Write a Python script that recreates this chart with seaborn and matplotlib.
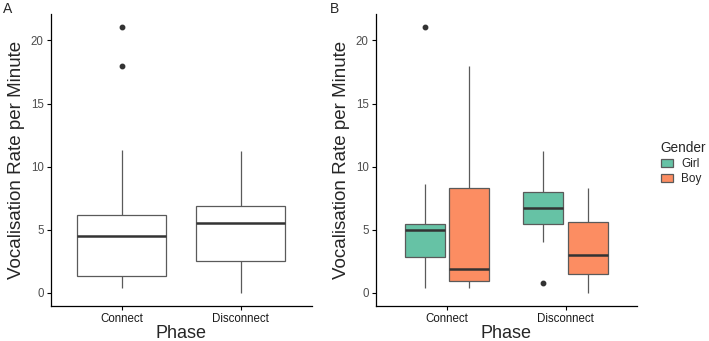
import numpy as np
import pandas as pd
import matplotlib
matplotlib.use("Agg")
import matplotlib.pyplot as plt
import seaborn as sns

# vocalisation rate per minute, one value per child
connect_girl = [0.34, 0.8, 1.68, 2.82, 3.6, 4.8, 5.0, 5.1, 5.3, 5.45, 6.37, 8.62, 21.05]
connect_boy = [0.4, 0.6, 0.95, 1.2, 1.92, 4.2, 8.33, 11.28, 17.95]
disconnect_girl = [0.79, 4.0, 5.45, 6.0, 6.7, 7.3, 7.96, 9.2, 11.25]
disconnect_boy = [0.0, 0.3, 0.6, 1.5, 2.4, 2.8, 3.0, 3.5, 5.55, 5.64, 6.2, 6.9, 8.33]

phases = ["Connect", "Disconnect"]
genders = ["Girl", "Boy"]
gender_colors = ["#66C2A5", "#FC8D62"]


def build_frame():
    rows = []
    groups = {("Connect", "Girl"): connect_girl, ("Connect", "Boy"): connect_boy,
              ("Disconnect", "Girl"): disconnect_girl, ("Disconnect", "Boy"): disconnect_boy}
    for (phase, gender), vals in groups.items():
        for v in vals:
            rows.append({"Phase": phase, "Gender": gender, "Rate": v})
    return pd.DataFrame(rows)


df = build_frame()

sns.set_theme(style="ticks")
plt.rcParams["font.family"] = ["Liberation Sans", "DejaVu Sans"]

fig = plt.figure(figsize=(7.09, 3.41), dpi=100)
ax_a = fig.add_axes([50.7 / 709, 35 / 341, 261 / 709, 292 / 341])
ax_b = fig.add_axes([375.7 / 709, 35 / 341, 261 / 709, 292 / 341])

box_kw = dict(
    linecolor="#5a5a5a", linewidth=0.9, fliersize=3.2,
    medianprops=dict(color="#333333", linewidth=1.8),
    flierprops=dict(marker="o", markerfacecolor="#333333", markeredgecolor="#333333"),
    whiskerprops=dict(color="#5a5a5a"), capprops=dict(linewidth=0),
)

sns.boxplot(data=df, x="Phase", y="Rate", order=phases, color="white",
            width=0.75, ax=ax_a, **box_kw)
sns.boxplot(data=df, x="Phase", y="Rate", order=phases, hue="Gender",
            hue_order=genders, palette=gender_colors, saturation=1,
            width=0.75, gap=0.1, ax=ax_b, **box_kw)

for ax in (ax_a, ax_b):
    ax.set_xlim(-0.6, 1.6)
    ax.set_ylim(-1.05, 22.1)
    ax.set_yticks([0, 5, 10, 15, 20])
    ax.set_xlabel("Phase", fontsize=13, labelpad=0)
    ax.set_ylabel("Vocalisation Rate per Minute", fontsize=13.5, labelpad=4)
    ax.tick_params(axis="both", labelsize=8.3, colors="black", length=3, width=0.8,
                   labelcolor="#4d4d4d", pad=2)
    ax.tick_params(axis="x", labelcolor="#1a1a1a")
    for side in ("left", "bottom"):
        ax.spines[side].set_color("black")
        ax.spines[side].set_linewidth(0.9)
    sns.despine(ax=ax)

sns.move_legend(ax_b, loc="center left", bbox_to_anchor=(1.07, 0.49), frameon=False,
                title="Gender", fontsize=8.5, title_fontsize=9.8, borderpad=0,
                alignment="left", handlelength=1.0, handleheight=0.7,
                labelspacing=0.25, handletextpad=0.7)

fig.text(3 / 709, 1 - 2 / 341, "A", fontsize=10, va="top", ha="left")
fig.text(330 / 709, 1 - 2 / 341, "B", fontsize=10, va="top", ha="left")

fig.savefig("out.png", dpi=100)
